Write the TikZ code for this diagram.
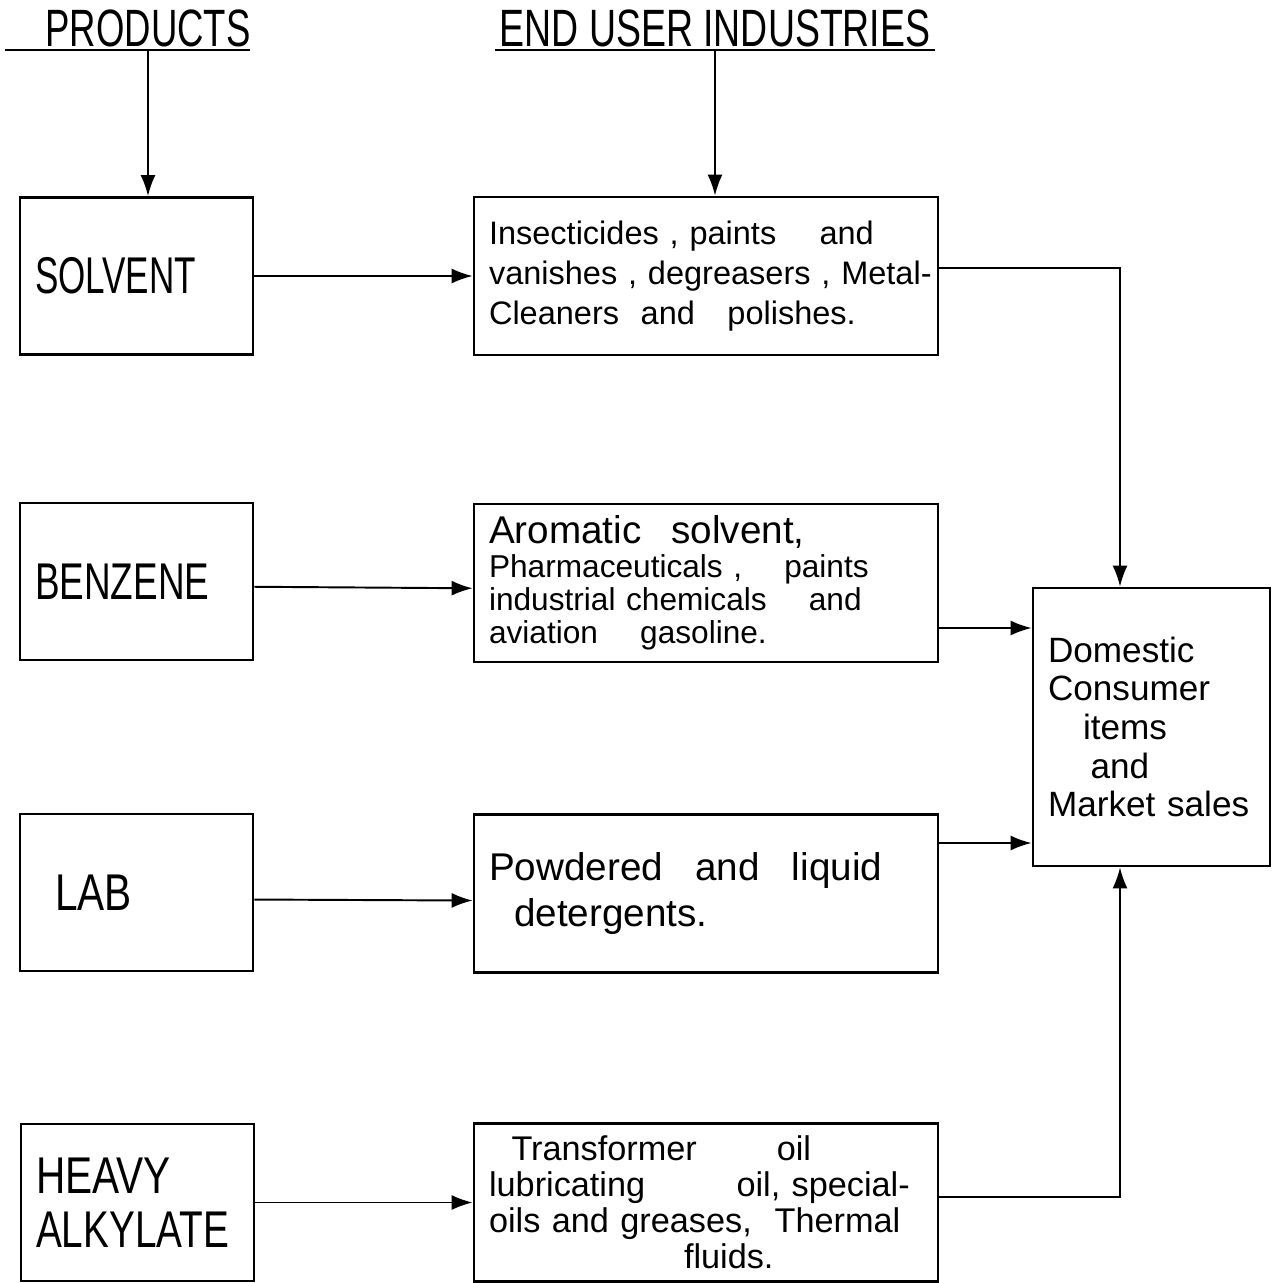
\documentclass[tikz,border=0pt]{standalone}
\usepackage{fontspec}
\usepackage{graphicx}
\setmainfont{Liberation Sans}
\usetikzlibrary{arrows.meta}
\newcommand{\talltext}[2][1]{\scalebox{#1}[1.4]{#2}}
\begin{document}
\begin{tikzpicture}[x=0.02cm,y=-0.02cm,
  box/.style={draw, line width=1.6pt, inner ysep=0pt, inner xsep=0.3cm, anchor=center, align=left},
  prodbox/.style={box, minimum width=4.66cm, minimum height=3.14cm, text width=4.06cm,
    font=\fontsize{21}{31}\selectfont},
  usebox/.style={box, minimum width=9.28cm, minimum height=3.16cm, text width=8.68cm,
    font=\fontsize{18.5}{22.8}\selectfont},
  header/.style={inner sep=0pt, font=\fontsize{26}{30}\selectfont},
  arr/.style={line width=1.1pt, -{Latex[length=0.42cm, width=0.3cm]}},
  uline/.style={line width=1.3pt}
]
\useasboundingbox (0,0) rectangle (1274,1283);

% headers
\node[header] (hprod) at (148,28) {\scalebox{0.8}[1.15]{PRODUCTS}};
\node[header] (huse) at (715,28) {\scalebox{0.82}[1.15]{END USER INDUSTRIES}};
\draw[uline] (5,50) -- (250,50);
\draw[uline] (495,50) -- (935,50);
\coordinate (hp) at (148,50);
\coordinate (hu) at (715,50);

% product boxes
\node[prodbox] (p1) at (136.5,276) {\talltext[0.95]{SOLVENT}};
\node[prodbox] (p2) at (136.5,581.5) {\talltext{BENZENE}};
\node[prodbox] (p3) at (136.5,892.5) {\hspace{0.4cm}\talltext[1.1]{LAB}};
\node[prodbox, minimum width=4.62cm] (p4) at (137.5,1202.5) {\talltext[1.1]{HEAVY}\\\talltext[1.05]{ALKYLATE}};

% end user boxes
\node[usebox] (e1) at (706,276)
  {\mbox{Insecticides , paints \quad and}\\
   \mbox{vanishes , degreasers , Metal-}\\
   \mbox{Cleaners \ and \ \ polishes.}};
\node[usebox, font=\fontsize{18}{19}\selectfont] (e2) at (706,583)
  {{\fontsize{22}{19}\selectfont \mbox{Aromatic \enspace solvent,}}\\
   \mbox{Pharmaceuticals , \quad paints}\\
   \mbox{industrial chemicals \quad and}\\
   \mbox{aviation \quad gasoline.}};
\node[usebox, font=\fontsize{22}{26}\selectfont] (e3) at (706,893.5)
  {\mbox{Powdered \enspace and \enspace liquid}\\\hspace{0.5cm}detergents.};
\node[usebox, font=\fontsize{19.5}{20.5}\selectfont] (e4) at (706,1202.5)
  {\hspace{0.45cm}\mbox{Transformer \qquad oil}\\
   \mbox{lubricating \qquad\ oil, special-}\\
   \mbox{oils and greases, \ Thermal}\\
   \hspace{3.9cm}fluids.};

% domestic box
\node[box, minimum width=4.74cm, minimum height=5.56cm, text width=4.14cm,
  font=\fontsize{20}{22}\selectfont] (dom) at (1151.5,727)
  {Domestic\\Consumer\\\hspace{0.7cm}items\\\hspace{0.85cm}and\\\mbox{Market sales}};

% connectors from headers
\draw[arr] (hp) -- (hp |- p1.north);
\draw[arr] (hu) -- (hu |- e1.north);

% product -> end user
\draw[arr] (p1.east) -- (e1.west);
\draw[arr] ([yshift=-3pt]p2.east) -- ([yshift=-3pt]e2.west);
\draw[arr] ([yshift=-4pt]p3.east) -- ([yshift=-4pt]e3.west);
\draw[arr] (p4.east) -- (e4.west);

% end user -> domestic
\coordinate (c1) at (1120,268);
\coordinate (c2) at (1033,628);
\coordinate (c3) at (1033,843);
\coordinate (c4) at (1120,1197);
\draw[arr] (e1.east |- c1) -- (c1) -- (c1 |- dom.north);
\draw[arr] (e2.east |- c2) -- (dom.west |- c2);
\draw[arr] (e3.east |- c3) -- (dom.west |- c3);
\draw[arr] (e4.east |- c4) -- (c4) -- (c4 |- dom.south);
\end{tikzpicture}
\end{document}
